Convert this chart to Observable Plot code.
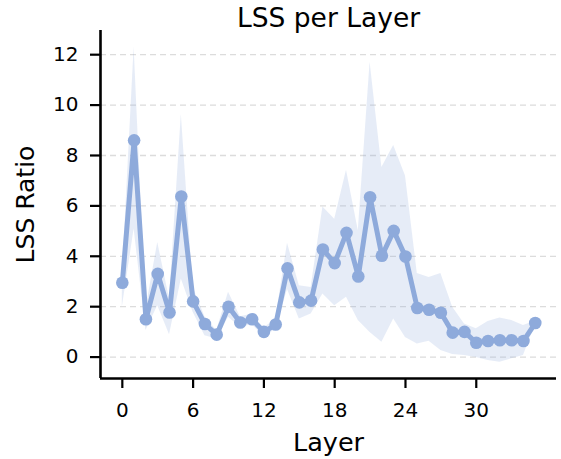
<!DOCTYPE html>
<html>
<head>
<meta charset="utf-8">
<script src="https://cdn.jsdelivr.net/npm/d3@7"></script>
<script src="https://cdn.jsdelivr.net/npm/@observablehq/plot@0.6"></script>
<style>
  html, body { margin: 0; padding: 0; background: white; }
</style>
</head>
<body>
<div id="chart"></div>
<script>
const layers = [0,1,2,3,4,5,6,7,8,9,10,11,12,13,14,15,16,17,18,19,20,21,22,23,24,25,26,27,28,29,30,31,32,33,34,35];
const lssMean = [2.95,8.60,1.50,3.30,1.77,6.37,2.21,1.31,0.89,2.00,1.37,1.50,1.00,1.29,3.52,2.17,2.24,4.27,3.73,4.93,3.20,6.34,4.02,5.01,3.99,1.95,1.88,1.76,0.97,1.00,0.57,0.64,0.67,0.67,0.64,1.35];
const lssHigh = [3.2,12.3,1.9,4.55,2.3,9.63,2.76,1.6,1.05,2.57,1.6,1.7,1.15,1.5,4.52,2.83,2.76,5.96,5.47,7.41,5.01,11.7,7.52,8.4,7.19,3.32,3.16,3.32,1.98,1.31,1.12,1.41,1.55,1.45,1.25,1.42];
const lssLow  = [1.98,5.08,1.05,2.04,0.89,3.10,1.78,0.85,0.72,1.58,1.18,1.28,0.83,1.08,2.68,1.51,1.71,2.50,2.04,2.37,1.45,0.98,0.59,1.51,0.78,0.52,0.63,0.26,0.10,0.06,-0.02,-0.14,-0.21,-0.07,0.06,1.28];
const xTicks = [0,6,12,18,24,30];
const yTicks = [0,2,4,6,8,10,12];
const titleText = "LSS per Layer";
const xLabel = "Layer";
const yLabel = "LSS Ratio";

const data = layers.map((l, i) => ({layer: l, v: lssMean[i], hi: lssHigh[i], lo: lssLow[i]}));
const color = "#8eaadb";
const xDom = [-1.85, 36.8];
const yDom = [-0.85, 12.96];

const chart = Plot.plot({
  width: 561,
  height: 459,
  marginLeft: 100,
  marginRight: 5,
  marginTop: 30,
  marginBottom: 81,
  style: {fontFamily: "DejaVu Sans", fontSize: "20px", background: "white", overflow: "visible"},
  x: {domain: xDom},
  y: {domain: yDom},
  marks: [
    Plot.ruleY(yTicks, {stroke: "#dcdcdc", strokeWidth: 1.3, strokeDasharray: "6,4"}),
    Plot.areaY(data, {x: "layer", y1: "lo", y2: "hi", fill: color, fillOpacity: 0.22}),
    Plot.lineY(data, {x: "layer", y: "v", stroke: color, strokeWidth: 5, strokeLinejoin: "round"}),
    Plot.dot(data, {x: "layer", y: "v", r: 6.3, fill: color}),
    Plot.axisX({ticks: xTicks, tickSize: 10, tickPadding: 14, fontSize: 20, strokeWidth: 2.2, stroke: "black", label: null}),
    Plot.axisY({ticks: yTicks, tickSize: 10, tickPadding: 12, fontSize: 20, strokeWidth: 2.2, stroke: "black", label: null}),
    Plot.ruleX([xDom[0]], {stroke: "black", strokeWidth: 2.6}),
    Plot.ruleY([yDom[0]], {stroke: "black", strokeWidth: 2.6}),
    Plot.text([titleText], {frameAnchor: "top", lineAnchor: "middle", textAnchor: "middle", dy: -12, fontSize: 26.5, fill: "black"}),
    Plot.text([xLabel], {frameAnchor: "bottom", lineAnchor: "middle", textAnchor: "middle", dy: 64, fontSize: 25.5, fill: "black"}),
    Plot.text([yLabel], {frameAnchor: "left", lineAnchor: "middle", textAnchor: "middle", dx: -75, rotate: -90, fontSize: 25, fill: "black"})
  ]
});
d3.select(chart).selectAll("g[aria-label$='tick label'] text, g[aria-label$='tick label']").style("font-size", "20px");
document.getElementById("chart").appendChild(chart);
</script>
</body>
</html>
